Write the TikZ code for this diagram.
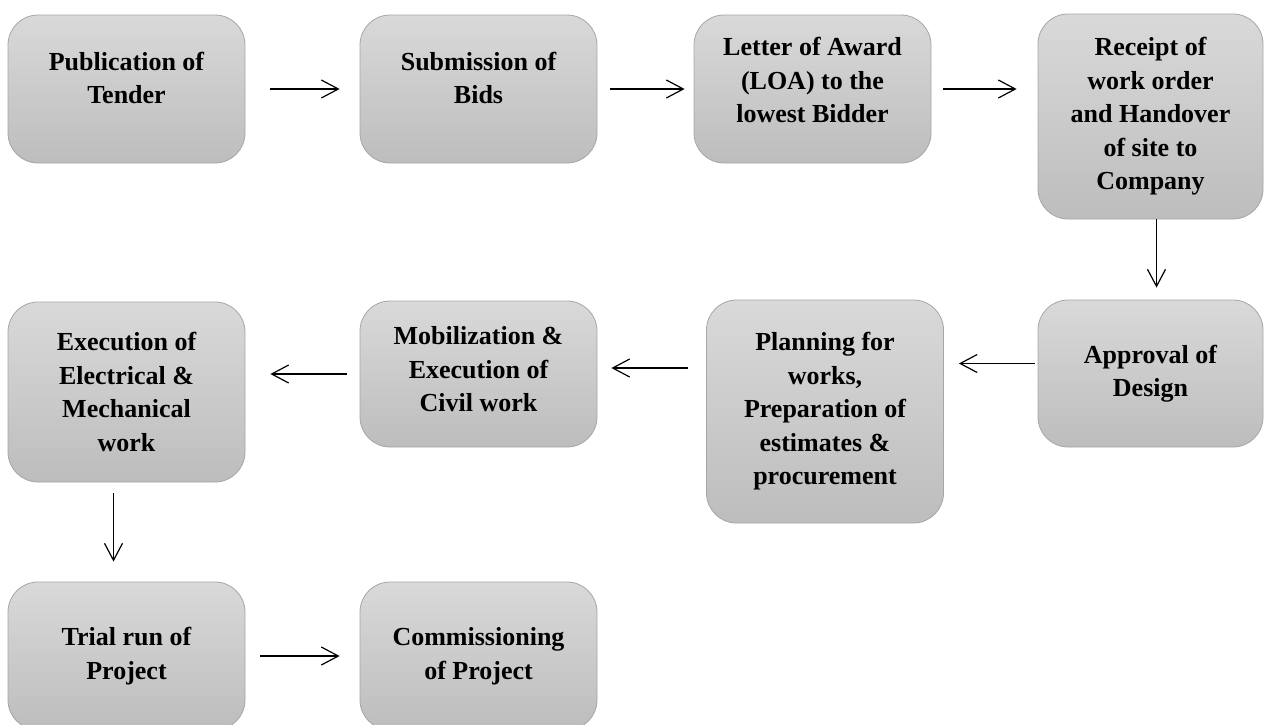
\documentclass[tikz,border=0pt]{standalone}
\usepackage{fontspec}
\setmainfont{Liberation Serif}
\usetikzlibrary{arrows.meta}
\definecolor{boxtop}{HTML}{D9D9D9}
\definecolor{boxbot}{HTML}{BDBDBD}
\definecolor{boxline}{HTML}{A6A6A6}

\begin{document}
\begin{tikzpicture}[x=1pt, y=-1pt,
		stage/.style={draw=boxline, line width=0.8pt, rounded corners=30pt, top color=boxtop, bottom color=boxbot, align=center, minimum width=237pt, font=\bfseries\fontsize{26}{33.5}\selectfont},
		flow/.style={line width=1.2pt, -{Straight Barb[length=17pt, width=18pt, line width=1.2pt]}}]
		\useasboundingbox (0,0) rectangle (1264,724);
		\node[stage, minimum height=148pt, text depth=22pt] (b1) at (126.5,89) {Publication of\\Tender};
		\node[stage, minimum height=148pt, text depth=22pt] (b2) at (478.5,89) {Submission of\\Bids};
		\node[stage, minimum height=148pt, text depth=18pt] (b3) at (812.5,89) {Letter of Award\\(LOA) to the\\lowest Bidder};
		\node[stage, minimum height=205pt, minimum width=225pt] (b4) at (1150.5,116.5) {Receipt of\\work order\\and Handover\\of site to\\Company};
		\node[stage, minimum height=147pt, minimum width=225pt] (b5) at (1150.5,373.5) {Approval of\\Design};
		\node[stage, minimum height=223pt] (b6) at (825,411.5) {Planning for\\works,\\Preparation of\\estimates \&\\procurement};
		\node[stage, minimum height=146pt, text depth=10pt] (b7) at (478.5,374) {Mobilization \&\\Execution of\\Civil work};
		\node[stage, minimum height=180pt] (b8) at (126.5,392) {Execution of\\Electrical \&\\Mechanical\\work};
		\node[stage, minimum height=148pt] (b9) at (126.5,656) {Trial run of\\Project};
		\node[stage, minimum height=148pt] (b10) at (478.5,656) {Commissioning\\of Project};
		\draw[flow, shorten <=25pt, shorten >=20pt] (b1) -- (b2);
		\draw[flow, shorten <=13pt, shorten >=9pt] (b2) -- (b3);
		\draw[flow, shorten <=12pt, shorten >=21pt] (b3.east) -- (b3.east -| b4.west);
		\draw[flow, shorten >=12pt] ([xshift=6]b4.south) -- ([xshift=6]b5.north);
		\draw[flow, shorten <=3pt, shorten >=15pt] ([yshift=10]b5.west) -- ([yshift=10]b5.west -| b6.east);
		\draw[flow, shorten <=18pt, shorten >=14pt] ([yshift=6]b7.east -| b6.west) -- ([yshift=6]b7.east);
		\draw[flow, shorten <=13pt, shorten >=25pt] (b7.west) -- (b7.west -| b8.east);
		\draw[flow, shorten <=11pt, shorten >=20pt] ([xshift=-13]b8.south) -- ([xshift=-13]b8.south |- b9.north);
		\draw[flow, shorten <=15pt, shorten >=20pt] (b9) -- (b10);
	\end{tikzpicture}
\end{document}
